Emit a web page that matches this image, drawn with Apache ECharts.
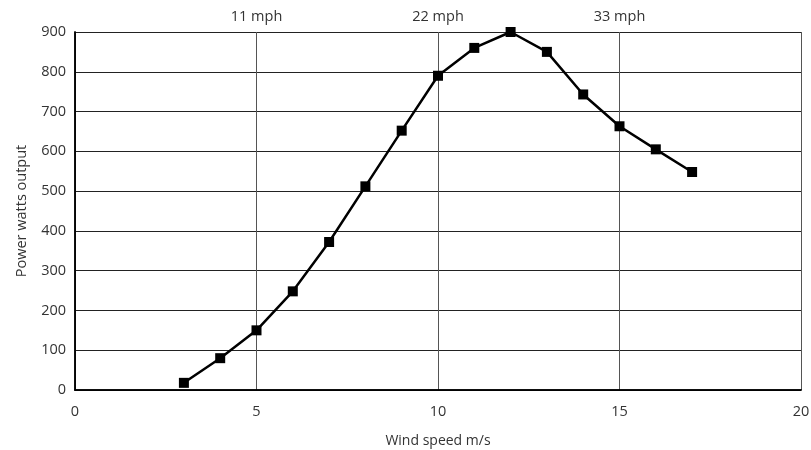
<!DOCTYPE html>
<html>
<head>
<meta charset="utf-8">
<script src="https://cdn.jsdelivr.net/npm/echarts@6/dist/echarts.min.js"></script>
<style>
    html, body { margin: 0; padding: 0; background: #fff; }
    #chart { width: 811px; height: 450px; }
</style>
</head>
<body>
<div id="chart"></div>
<script>
// wind speed (m/s) and power output (watts)
const windSpeed = [3, 4, 5, 6, 7, 8, 9, 10, 11, 12, 13, 14, 15, 16, 17]
const powerWatts = [18, 80, 150, 248, 372, 512, 652, 790, 860, 900, 850, 743, 663, 605, 548]
// labels on the top axis, keyed by m/s tick
const mphTicks = [5, 10, 15]
const mphLabels = ['11 mph', '22 mph', '33 mph']

const font = '"Open Sans", "Noto Sans", sans-serif'
const chart = echarts.init(document.getElementById('chart'))

chart.setOption({
    animation: false,
    grid: { left: 75, right: 10, top: 32, bottom: 60, outerBoundsMode: 'none' },
    xAxis: [
        {
            type: 'value',
            min: 0,
            max: 20,
            interval: 5,
            name: 'Wind speed m/s',
            nameLocation: 'middle',
            nameGap: 44,
            nameTextStyle: { color: '#333', fontSize: 14, fontFamily: font },
            axisLine: { show: true, lineStyle: { color: '#000', width: 1.5 } },
            axisTick: { show: false },
            axisLabel: { color: '#333', fontSize: 14.5, fontFamily: font, margin: 14 },
            splitLine: { show: true, lineStyle: { color: '#555', width: 1 } },
        },
        {
            type: 'value',
            position: 'top',
            min: 0,
            max: 20,
            interval: 5,
            axisLine: { show: true, lineStyle: { color: '#000', width: 1.5 } },
            axisTick: { show: false },
            axisLabel: {
                color: '#333',
                fontSize: 14.5,
                fontFamily: font,
                margin: 8,
                formatter: (v) => {
                    const i = mphTicks.indexOf(v)
                    return i >= 0 ? mphLabels[i] : ''
                },
            },
            splitLine: { show: false },
        },
    ],
    yAxis: [
        {
            type: 'value',
            min: 0,
            max: 900,
            interval: 100,
            name: 'Power watts output',
            nameLocation: 'middle',
            nameGap: 46,
            nameTextStyle: { color: '#333', fontSize: 14.5, fontFamily: font },
            axisLine: { show: true, lineStyle: { color: '#000', width: 1.5 } },
            axisTick: { show: false },
            axisLabel: { color: '#333', fontSize: 14.5, fontFamily: font, margin: 9 },
            splitLine: { show: true, lineStyle: { color: '#222', width: 1 } },
        },
        {
            type: 'value',
            position: 'right',
            min: 0,
            max: 900,
            interval: 100,
            axisLine: { show: true, lineStyle: { color: '#000', width: 1.5 } },
            axisTick: { show: false },
            axisLabel: { show: false },
            splitLine: { show: false },
        },
    ],
    series: [
        {
            type: 'line',
            data: windSpeed.map((x, i) => [x, powerWatts[i]]),
            symbol: 'rect',
            symbolSize: 10,
            lineStyle: { color: '#000', width: 2.5 },
            itemStyle: { color: '#000' },
        },
    ],
})
</script>
</body>
</html>
